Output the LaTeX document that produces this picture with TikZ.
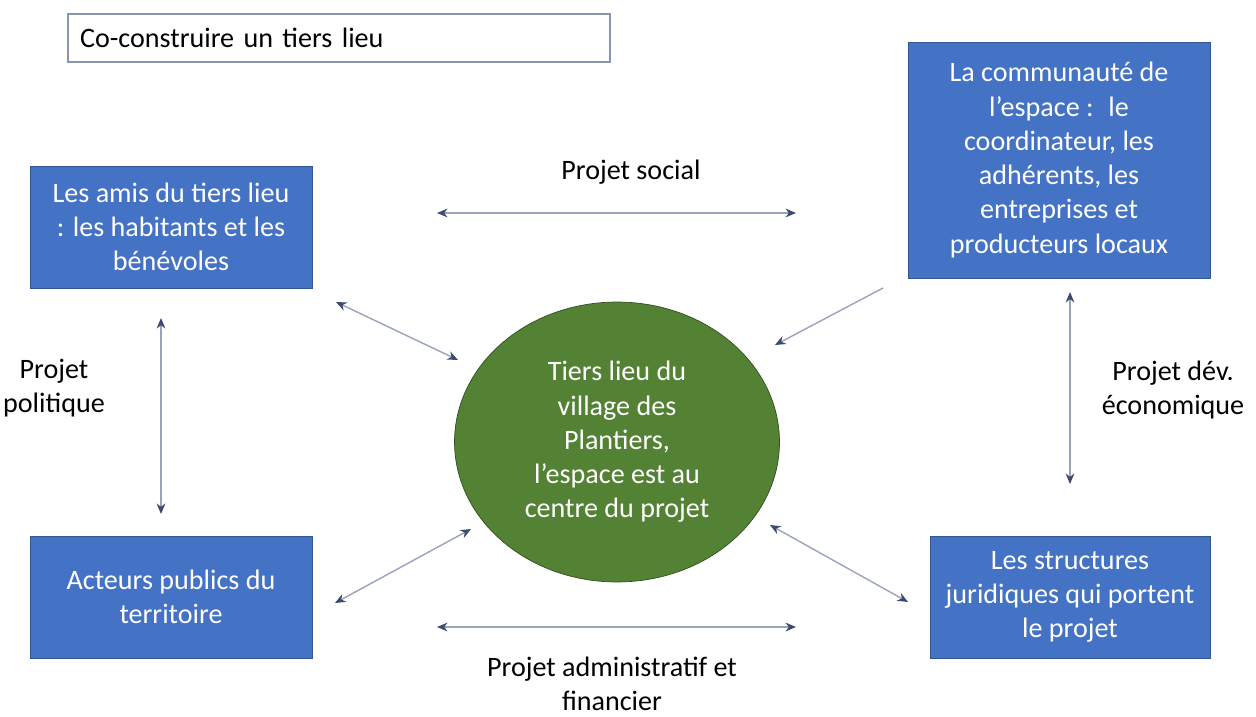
\documentclass[tikz,border=0pt]{standalone}
\usepackage{fontspec}
\setmainfont{Carlito}
\usetikzlibrary{arrows.meta,positioning,shapes.geometric}
\definecolor{boxblue}{HTML}{4472C4}
\definecolor{hubgreen}{HTML}{548235}
\definecolor{linkgray}{HTML}{9AA3BC}
\definecolor{headnavy}{HTML}{3B4A6E}
\definecolor{framegray}{HTML}{8496B0}
\tikzset{
  bluebox/.style={draw=boxblue!75!black,fill=boxblue,text=white,align=center,inner sep=0pt,
    font=\fontsize{16}{19.5}\selectfont},
  hubnode/.style={ellipse,draw=hubgreen!60!black,fill=hubgreen,text=white,align=center,inner sep=0pt,
    minimum width=6.5cm,minimum height=5.6cm,font=\fontsize{16}{19.5}\selectfont},
  titlebox/.style={draw=framegray,thick,align=left,inner xsep=0.24cm,text width=10.36cm,
    minimum height=0.96cm,font=\fontsize{16}{19.5}\selectfont},
  lbl/.style={align=center,font=\fontsize{16}{19}\selectfont},
  link/.style={draw=linkgray,thick,{Stealth[length=6pt,width=5pt,color=headnavy]}-{Stealth[length=6pt,width=5pt,color=headnavy]}},
  onelink/.style={draw=linkgray,thick,-{Stealth[length=6pt,width=5pt,color=headnavy]}}
}
\begin{document}
\begin{tikzpicture}[x=0.02cm,y=-0.02cm]
  \useasboundingbox (0,0) rectangle (1256,716);

  \node[titlebox] (title) at (339,38) {Co-construire un tiers lieu};

  \node[bluebox,minimum width=5.64cm,minimum height=2.44cm] (amis) at (171,227)
    {Les amis du tiers lieu\\: les habitants et les\\bénévoles};
  \node[bluebox,minimum width=6.04cm,minimum height=4.72cm] (commu) at (1059,160)
    {La communauté de\\l'espace :~ le\\coordinateur, les\\adhérents, les\\entreprises et\\producteurs locaux};
  \node[bluebox,minimum width=5.64cm,minimum height=2.44cm] (acteurs) at (171,597)
    {Acteurs publics du\\territoire};
  \node[bluebox,minimum width=5.6cm,minimum height=2.44cm] (struct) at (1070,597)
    {Les structures\\juridiques qui portent\\le projet};
  \node[hubnode] (hub) at (617,442)
    {Tiers lieu du\\village des\\Plantiers,\\l'espace est au\\centre du projet};

  \node[lbl] (social) at (631,172) {Projet social};
  \node[lbl] (admin) at (612,684) {Projet administratif et\\financier};
  \node[lbl] (poli) at (54,388) {Projet\\politique};
  \node[lbl] (eco) at (1173,390) {Projet dév.\\économique};

  % arrow ends
  \coordinate (socL) at (437,213);
  \coordinate (socR) at (796,213);
  \coordinate (admL) at (437,627);
  \coordinate (admR) at (796,627);
  \coordinate (polT) at (161,318);
  \coordinate (polB) at (161,514);
  \coordinate (ecoT) at (1070,292);
  \coordinate (ecoB) at (1070,484);
  \coordinate (amisE) at (336,302);
  \coordinate (hubNW) at (458,360);
  \coordinate (commuE) at (883,288);
  \coordinate (hubNE) at (775,345);
  \coordinate (actE) at (335,603);
  \coordinate (hubSW) at (471,529);
  \coordinate (hubSE) at (770,525);
  \coordinate (structE) at (908,602);

  \draw[link] (socL) -- (socR);
  \draw[link] (admL) -- (admR);
  \draw[link] (polT) -- (polB);
  \draw[link] (ecoT) -- (ecoB);
  \draw[link] (amisE) -- (hubNW);
  \draw[onelink] (commuE) -- (hubNE);
  \draw[link] (actE) -- (hubSW);
  \draw[link] (hubSE) -- (structE);
\end{tikzpicture}
\end{document}
